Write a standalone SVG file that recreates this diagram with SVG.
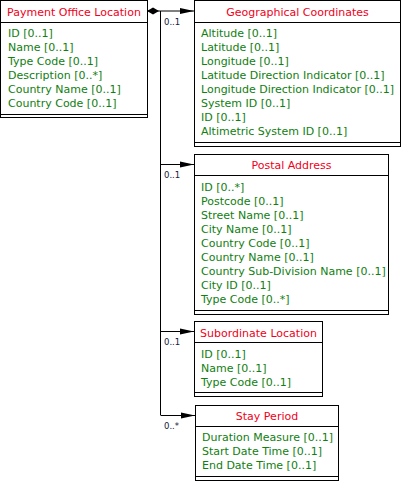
<svg xmlns="http://www.w3.org/2000/svg" width="403" height="494" viewBox="0 0 403 494">
<style>
.box{fill:#fff;stroke:#000;stroke-width:1}
.ln{stroke:#000;stroke-width:1;fill:none}
.hd{font-family:"DejaVu Sans",sans-serif;font-size:11px;fill:#f00020;text-anchor:middle}
.at{font-family:"DejaVu Sans",sans-serif;font-size:11px;fill:#108010}
.ml{font-family:"DejaVu Sans",sans-serif;font-size:8.5px;fill:#102040}
</style>
<defs>
<marker id="arr" markerWidth="14" markerHeight="8" refX="14" refY="4" orient="auto" markerUnits="userSpaceOnUse">
<path d="M0,1 L14,4 L0,7 Z" fill="#000"/>
</marker>
<marker id="dia" markerWidth="13" markerHeight="8" refX="0" refY="4" orient="auto" markerUnits="userSpaceOnUse">
<path d="M0,4 L6,0.5 L12,4 L6,7.5 Z" fill="#000"/>
</marker>
</defs>
<g id="connectors">
<path class="ln" d="M147,11 L194,11" marker-start="url(#dia)" marker-end="url(#arr)"/>
<path class="ln" d="M160.5,11 L160.5,415"/>
<path class="ln" d="M160.5,164.5 L194,164.5" marker-end="url(#arr)"/>
<path class="ln" d="M160.5,331.5 L194,331.5" marker-end="url(#arr)"/>
<path class="ln" d="M160.5,415.5 L195,415.5" marker-end="url(#arr)"/>
<text class="ml" x="164" y="25">0..1</text>
<text class="ml" x="164" y="178">0..1</text>
<text class="ml" x="164" y="345">0..1</text>
<text class="ml" x="164" y="429">0..*</text>
</g>
<g id="payment-office-location">
<rect class="box" x="0.5" y="0.5" width="147" height="117"/>
<line class="ln" x1="0" y1="22.5" x2="147.5" y2="22.5"/>
<line class="ln" x1="0" y1="114.5" x2="147.5" y2="114.5"/>
<text class="hd" x="74" y="16">Payment Office Location</text>
<text class="at" x="8" y="37">ID [0..1]</text>
<text class="at" x="8" y="51">Name [0..1]</text>
<text class="at" x="8" y="65">Type Code [0..1]</text>
<text class="at" x="8" y="79">Description [0..*]</text>
<text class="at" x="8" y="93">Country Name [0..1]</text>
<text class="at" x="8" y="107">Country Code [0..1]</text>
</g>
<g id="geographical-coordinates">
<rect class="box" x="194.5" y="0.5" width="206" height="146"/>
<line class="ln" x1="194.5" y1="22.5" x2="400.5" y2="22.5"/>
<line class="ln" x1="194.5" y1="142.5" x2="400.5" y2="142.5"/>
<text class="hd" x="297.5" y="16">Geographical Coordinates</text>
<text class="at" x="201" y="37">Altitude [0..1]</text>
<text class="at" x="201" y="51">Latitude [0..1]</text>
<text class="at" x="201" y="65">Longitude [0..1]</text>
<text class="at" x="201" y="79">Latitude Direction Indicator [0..1]</text>
<text class="at" x="201" y="93">Longitude Direction Indicator [0..1]</text>
<text class="at" x="201" y="107">System ID [0..1]</text>
<text class="at" x="201" y="121">ID [0..1]</text>
<text class="at" x="201" y="135">Altimetric System ID [0..1]</text>
</g>
<g id="postal-address">
<rect class="box" x="194.5" y="154.5" width="194" height="160"/>
<line class="ln" x1="194.5" y1="175.5" x2="388.5" y2="175.5"/>
<line class="ln" x1="194.5" y1="310.5" x2="388.5" y2="310.5"/>
<text class="hd" x="291.5" y="169">Postal Address</text>
<text class="at" x="201" y="191">ID [0..*]</text>
<text class="at" x="201" y="205">Postcode [0..1]</text>
<text class="at" x="201" y="219">Street Name [0..1]</text>
<text class="at" x="201" y="233">City Name [0..1]</text>
<text class="at" x="201" y="247">Country Code [0..1]</text>
<text class="at" x="201" y="261">Country Name [0..1]</text>
<text class="at" x="201" y="275">Country Sub-Division Name [0..1]</text>
<text class="at" x="201" y="289">City ID [0..1]</text>
<text class="at" x="201" y="303">Type Code [0..*]</text>
</g>
<g id="subordinate-location">
<rect class="box" x="194.5" y="321.5" width="128" height="75"/>
<line class="ln" x1="194.5" y1="342.5" x2="322.5" y2="342.5"/>
<line class="ln" x1="194.5" y1="392.5" x2="322.5" y2="392.5"/>
<text class="hd" x="258.5" y="337">Subordinate Location</text>
<text class="at" x="201" y="358">ID [0..1]</text>
<text class="at" x="201" y="372">Name [0..1]</text>
<text class="at" x="201" y="386">Type Code [0..1]</text>
</g>
<g id="stay-period">
<rect class="box" x="195.5" y="405.5" width="143" height="75"/>
<line class="ln" x1="195.5" y1="426.5" x2="338.5" y2="426.5"/>
<line class="ln" x1="195.5" y1="476.5" x2="338.5" y2="476.5"/>
<text class="hd" x="267" y="420">Stay Period</text>
<text class="at" x="202" y="441">Duration Measure [0..1]</text>
<text class="at" x="202" y="455">Start Date Time [0..1]</text>
<text class="at" x="202" y="469">End Date Time [0..1]</text>
</g>
</svg>
